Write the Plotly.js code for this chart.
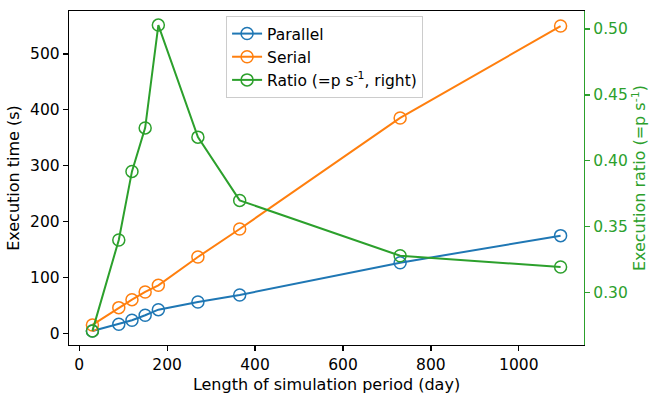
<!DOCTYPE html>
<html>
<head>
<meta charset="utf-8">
<script src="https://cdn.plot.ly/plotly-3.0.1.min.js"></script>
<style>html,body{margin:0;padding:0;background:#fff}#chart{width:650px;height:397px}</style>
</head>
<body>
<div id="chart"></div>
<script>
const days = [30, 90, 120, 150, 180, 270, 365, 730, 1095];
const parallel = [4.1, 16.1, 23.3, 32.2, 42.3, 56, 68.6, 126.4, 174.8];
const serial = [14.9, 45.9, 60.2, 74, 85.9, 136.6, 186.7, 385.5, 550];
const ratio = [0.271, 0.340, 0.392, 0.425, 0.503, 0.418, 0.370, 0.328, 0.3195];
const xTicks = [0, 200, 400, 600, 800, 1000];
const yTicks = [0, 100, 200, 300, 400, 500];
const y2Ticks = [0.30, 0.35, 0.40, 0.45, 0.50];

const FS = 15.5;
const font = {family: 'DejaVu Sans', size: FS, color: '#000'};
const green = '#2ca02c';
function tr(y, name, color, axis) {
  return {
    x: days, y: y, name: name, type: 'scatter', mode: 'lines+markers', yaxis: axis,
    line: {color: color, width: 2},
    marker: {symbol: 'circle-open', size: 12, color: color, line: {width: 1.5, color: color}}
  };
}
const data = [
  tr(parallel, 'Parallel', '#1f77b4', 'y'),
  tr(serial, 'Serial', '#ff7f0e', 'y'),
  tr(ratio, 'Ratio (=p s<sup>-1</sup>, right)', green, 'y2')
];
const layout = {
  width: 650, height: 397,
  margin: {l: 69, r: 66, t: 11, b: 52},
  paper_bgcolor: '#fff', plot_bgcolor: '#fff',
  font: font,
  showlegend: true,
  legend: {x: 0.305, y: 0.985, xanchor: 'left', yanchor: 'top',
    bgcolor: 'rgba(255,255,255,0.8)', bordercolor: '#cccccc', borderwidth: 1,
    itemwidth: 30,
    font: {family: 'DejaVu Sans', size: FS, color: '#000'}, tracegroupgap: 0},
  xaxis: {
    range: [-23.25, 1148.25], tickvals: xTicks, ticktext: xTicks.map(String),
    showgrid: false, zeroline: false, showline: true, linecolor: '#000', linewidth: 1.2,
    mirror: true, ticks: 'outside', ticklen: 5, tickwidth: 1.2, tickcolor: '#000',
    tickfont: font,
    title: {text: 'Length of simulation period (day)', font: {family: 'DejaVu Sans', size: 16, color: '#000'}, standoff: 6}
  },
  yaxis: {
    range: [-21, 577], tickvals: yTicks, ticktext: yTicks.map(String),
    showgrid: false, zeroline: false, showline: true, linecolor: '#000', linewidth: 1.2,
    ticks: 'outside', ticklen: 5, tickwidth: 1.2, tickcolor: '#000',
    tickfont: font,
    title: {text: 'Execution time (s)', font: {family: 'DejaVu Sans', size: 16, color: '#000'}, standoff: 6}
  },
  yaxis2: {
    overlaying: 'y', side: 'right',
    range: [0.2603, 0.5137], tickvals: y2Ticks, ticktext: y2Ticks.map(v => v.toFixed(2)),
    showgrid: false, zeroline: false, showline: true, linecolor: green, linewidth: 1.2,
    ticks: 'outside', ticklen: 5, tickwidth: 1.2, tickcolor: green,
    tickfont: {family: 'DejaVu Sans', size: FS, color: green},
    title: {text: 'Execution ratio (=p s<sup>-1</sup>)', font: {family: 'DejaVu Sans', size: 16, color: green}, standoff: 7}
  }
};
Plotly.newPlot('chart', data, layout, {displayModeBar: false, staticPlot: true});
</script>
</body>
</html>
